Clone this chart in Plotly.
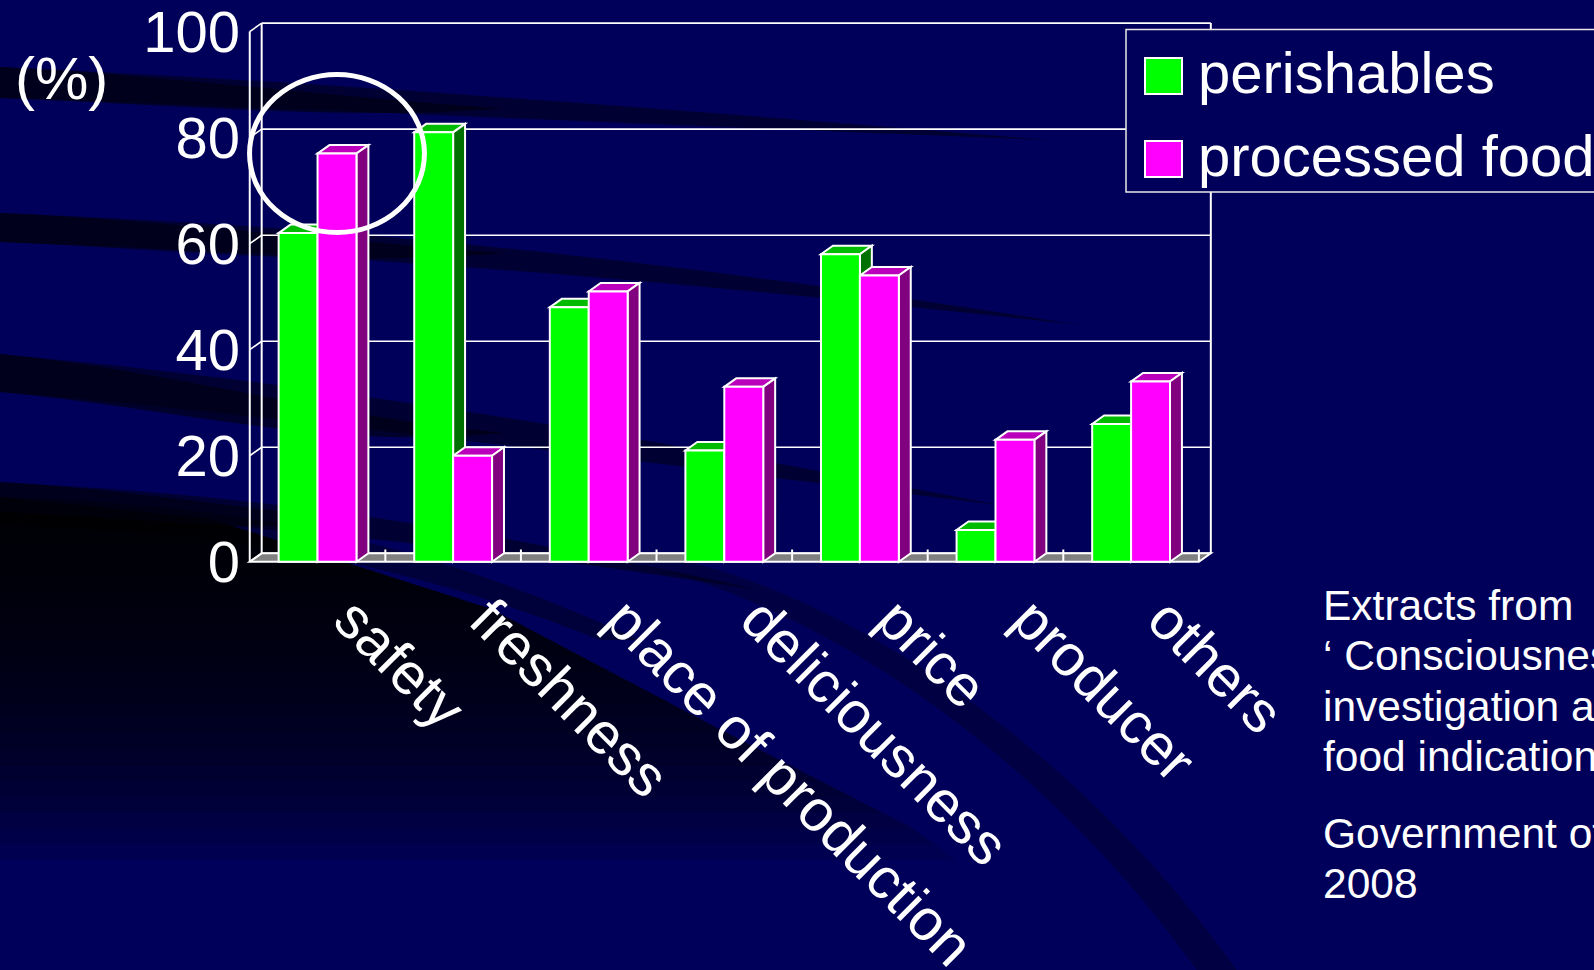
import numpy as np
import plotly.graph_objects as go

# ---------------- data ----------------
categories = ["safety", "freshness", "place of production", "deliciousness",
              "price", "producer", "others"]
perishables = [62, 81, 48, 21, 58, 6, 26]
processed_food = [77, 20, 51, 33, 54, 23, 34]
series_names = ["perishables", "processed food"]
y_ticks = [0, 20, 40, 60, 80, 100]
unit_label = "(%)"
source_lines = ["Extracts from", "\u2018 Consciousness", "investigation about",
                "food indications\u2019", "Government of Japan", "2008"]

# ---------------- styling / geometry ----------------
W, H = 1594, 970
FONT = "Liberation Sans, Arial, Helvetica, sans-serif"
BG = "#00005A"
GREEN, GREEN_TOP, GREEN_SIDE = "#00FF00", "#00BB00", "#007000"
MAG, MAG_TOP, MAG_SIDE = "#FF00FF", "#BB00BB", "#800080"
FLOOR = "#808080"
LINE = "white"

X_RANGE = [-0.035, 7.2]
Y_RANGE = [-2, 102]
X_DOMAIN = [245 / W, 1226 / W]
Y_DOMAIN = [(H - 572.4) / H, (H - 21) / H]
DX = 0.088   # 3-D depth, category units
DY = 1.6     # 3-D depth, % units
BAR_W = 0.287

n = len(categories)


def P(px, py):
    """figure pixel -> paper fraction"""
    return px / W, 1 - py / H


def paper_path(cmds):
    out = []
    for c in cmds:
        if isinstance(c, str):
            out.append(c)
        else:
            x, y = P(*c)
            out.append(f"{x:.5f},{y:.5f}")
    return " ".join(out)


def paper_poly(pts):
    return "M " + " L ".join("{:.5f},{:.5f}".format(*P(x, y)) for x, y in pts) + " Z"


def data_poly(pts):
    return "M " + " L ".join(f"{x:.4f},{y:.4f}" for x, y in pts) + " Z"


shapes = []

# ---------- background decoration (paper) ----------
# lower-left dark sweep: region left of an arc, darkest at the top
arc_knots = np.array([(0, 497), (210, 519), (491, 609), (702, 720),
                      (912, 828), (1053, 930), (1100, 975)], dtype=float)
t = np.linspace(0, len(arc_knots) - 1, 200)
arc_x = np.interp(t, np.arange(len(arc_knots)), arc_knots[:, 0])
arc_y = np.interp(t, np.arange(len(arc_knots)), arc_knots[:, 1])
for yk in np.linspace(530, 860, 22):
    sel = arc_y <= yk
    pts = [(0, 497)] + list(zip(arc_x[sel], arc_y[sel]))
    xe = np.interp(yk, arc_y, arc_x)
    pts += [(xe, yk), (0, yk)]
    shapes.append(dict(type="path", xref="paper", yref="paper", layer="below",
                       path=paper_poly(pts), fillcolor="rgba(0,0,0,0.095)",
                       line=dict(width=0)))
# a darker thin seam along the top of the sweep
shapes.append(dict(type="path", xref="paper", yref="paper", layer="below",
                   path=paper_path(["M", (0, 497), "C", (250, 505), (420, 540), (640, 640),
                                    "L", (600, 640), "C", (400, 560), (220, 530), (0, 526), "Z"]),
                   fillcolor="rgba(0,0,0,0.35)", line=dict(width=0)))
# faint streak to the right of the sweep
shapes.append(dict(type="path", xref="paper", yref="paper", layer="below",
                   path=paper_path(["M", (620, 560), "C", (820, 600), (1050, 760), (1200, 975),
                                    "L", (1240, 975), "C", (1090, 760), (860, 600), (680, 560), "Z"]),
                   fillcolor="rgba(0,0,15,0.30)", line=dict(width=0)))

# dark diagonal bands (strong on the left, fading to the right)
bands = [
    # (top-left y, bottom-left y, mid x, mid top, mid bottom, end x, end y)
    (67, 98, 560, 100, 121, 1050, 140),
    (213, 242, 560, 243, 268, 1080, 325),
    (354, 392, 560, 420, 452, 1000, 505),
    (482, 512, 400, 510, 535, 760, 590),
]
for (ty0, by0, mx, mty, mby, ex, ey) in bands:
    full = ["M", (0, ty0), "C", (mx * 0.5, ty0 + (mty - ty0) * 0.4), (mx, mty), (ex, ey),
            "C", (mx, mby), (mx * 0.5, by0 + (mby - by0) * 0.4), (0, by0), "Z"]
    shapes.append(dict(type="path", xref="paper", yref="paper", layer="below",
                       path=paper_path(full), fillcolor="rgba(0,0,20,0.55)",
                       line=dict(width=0)))
    ex2 = mx * 0.9
    ey2 = (mty + mby) / 2 - (mby - mty) * 0.1
    left = ["M", (0, ty0), "C", (mx * 0.3, ty0 + (mty - ty0) * 0.25), (mx * 0.6, mty - 2), (ex2, ey2),
            "C", (mx * 0.6, mby), (mx * 0.3, by0 + (mby - by0) * 0.25), (0, by0), "Z"]
    shapes.append(dict(type="path", xref="paper", yref="paper", layer="below",
                       path=paper_path(left), fillcolor="rgba(0,0,10,0.55)",
                       line=dict(width=0)))

# ---------- 3-D frame (data coords) ----------
ax = dict(xref="x", yref="y", layer="below")
shapes.append(dict(type="path", path=data_poly([(0, 0), (n, 0), (n + DX, DY), (DX, DY)]),
                   fillcolor=FLOOR, line=dict(color=LINE, width=2), **ax))
for xv in [DX, n + DX]:
    shapes.append(dict(type="line", x0=xv, x1=xv, y0=DY, y1=100 + DY,
                       line=dict(color=LINE, width=2), **ax))
shapes.append(dict(type="line", x0=0, x1=0, y0=0, y1=100, line=dict(color=LINE, width=2), **ax))
for v in y_ticks:
    shapes.append(dict(type="line", x0=DX, x1=n + DX, y0=v + DY, y1=v + DY,
                       line=dict(color=LINE, width=1.6), **ax))
    shapes.append(dict(type="line", x0=0, x1=DX, y0=v, y1=v + DY,
                       line=dict(color=LINE, width=1.6), **ax))
for i in range(1, n + 1):
    shapes.append(dict(type="line", x0=i, x1=i, y0=0, y1=2.3,
                       line=dict(color=LINE, width=2), **ax))

# ---------- bar tops and sides ----------
for i, (g, m) in enumerate(zip(perishables, processed_food)):
    c = i + 0.5
    for (x0, x1, v, top, side) in [(c - BAR_W, c, g, GREEN_TOP, GREEN_SIDE),
                                    (c, c + BAR_W, m, MAG_TOP, MAG_SIDE)]:
        shapes.append(dict(type="path",
                           path=data_poly([(x0, v), (x1, v), (x1 + DX, v + DY), (x0 + DX, v + DY)]),
                           fillcolor=top, line=dict(color=LINE, width=2), **ax))
        shapes.append(dict(type="path",
                           path=data_poly([(x1, 0), (x1 + DX, DY), (x1 + DX, v + DY), (x1, v)]),
                           fillcolor=side, line=dict(color=LINE, width=2), **ax))

# ---------- highlight ellipse around "safety" ----------
hx = 0.5 + BAR_W / 2
hy = processed_food[0]
shapes.append(dict(type="circle", xref="x", yref="y", layer="above",
                   x0=hx - 0.645, x1=hx + 0.645, y0=hy - 14.9, y1=hy + 14.9,
                   line=dict(color="white", width=5)))

# ---------- legend box (drawn manually for large swatches) ----------
lx0, ly0 = P(1126, 29.5)
lx1, ly1 = P(1620, 192)
shapes.append(dict(type="rect", xref="paper", yref="paper", layer="above",
                   x0=lx0, x1=lx1, y0=ly1, y1=ly0, fillcolor=BG,
                   line=dict(color="#E8E8E8", width=1.5)))
annotations = []
for k, (name, col) in enumerate(zip(series_names, [GREEN, MAG])):
    cy = 76 + k * 83
    sx0, sy0 = P(1145, cy - 18)
    sx1, sy1 = P(1182, cy + 18)
    shapes.append(dict(type="rect", xref="paper", yref="paper", layer="above",
                       x0=sx0, x1=sx1, y0=sy1, y1=sy0, fillcolor=col,
                       line=dict(color="white", width=2)))
    tx, ty = P(1196, cy - 3)
    annotations.append(dict(text=name, x=tx, y=ty, xref="paper", yref="paper",
                            xanchor="left", yanchor="middle", showarrow=False,
                            font=dict(family=FONT, size=58, color="white")))

ux, uy = P(61, 78)
annotations.append(dict(text=unit_label, x=ux, y=uy, xref="paper", yref="paper",
                        xanchor="center", yanchor="middle", showarrow=False,
                        font=dict(family=FONT, size=60, color="white")))

baselines = [620.7, 670.7, 721, 771.7, 848.3, 898.5]
for line, bl in zip(source_lines, baselines):
    tx, ty = P(1321, bl - 15)
    annotations.append(dict(text=line, x=tx, y=ty, xref="paper", yref="paper",
                            xanchor="left", yanchor="middle", showarrow=False,
                            font=dict(family=FONT, size=42.5, color="white")))

# ---------- figure ----------
fig = go.Figure()
fig.add_trace(go.Bar(name=series_names[0], x=[i + 0.5 - BAR_W / 2 for i in range(n)],
                     y=perishables, width=BAR_W,
                     marker=dict(color=GREEN, line=dict(color=LINE, width=2)),
                     showlegend=False))
fig.add_trace(go.Bar(name=series_names[1], x=[i + 0.5 + BAR_W / 2 for i in range(n)],
                     y=processed_food, width=BAR_W,
                     marker=dict(color=MAG, line=dict(color=LINE, width=2)),
                     showlegend=False))

fig.update_layout(
    width=W, height=H,
    margin=dict(l=0, r=0, t=0, b=0, pad=0, autoexpand=False),
    paper_bgcolor=BG, plot_bgcolor="rgba(0,0,0,0)",
    barmode="overlay",
    showlegend=False,
    shapes=shapes,
    annotations=annotations,
    font=dict(family=FONT, color="white"),
    xaxis=dict(domain=X_DOMAIN, range=X_RANGE, showgrid=False, zeroline=False,
               showline=False, ticks="", tickmode="array",
               tickvals=[i + 0.5 for i in range(n)], ticktext=categories,
               tickangle=45, ticklabelshift=34, ticklabeloverflow="allow",
               tickfont=dict(family=FONT, size=58, color="white")),
    yaxis=dict(domain=Y_DOMAIN, range=Y_RANGE, showgrid=False, zeroline=False,
               showline=False, ticks="", tickmode="array", tickvals=y_ticks,
               ticktext=[str(t) for t in y_ticks], ticklabelstandoff=4,
               ticklabeloverflow="allow",
               tickfont=dict(family=FONT, size=58, color="white")),
)

fig.write_html("out.html")
